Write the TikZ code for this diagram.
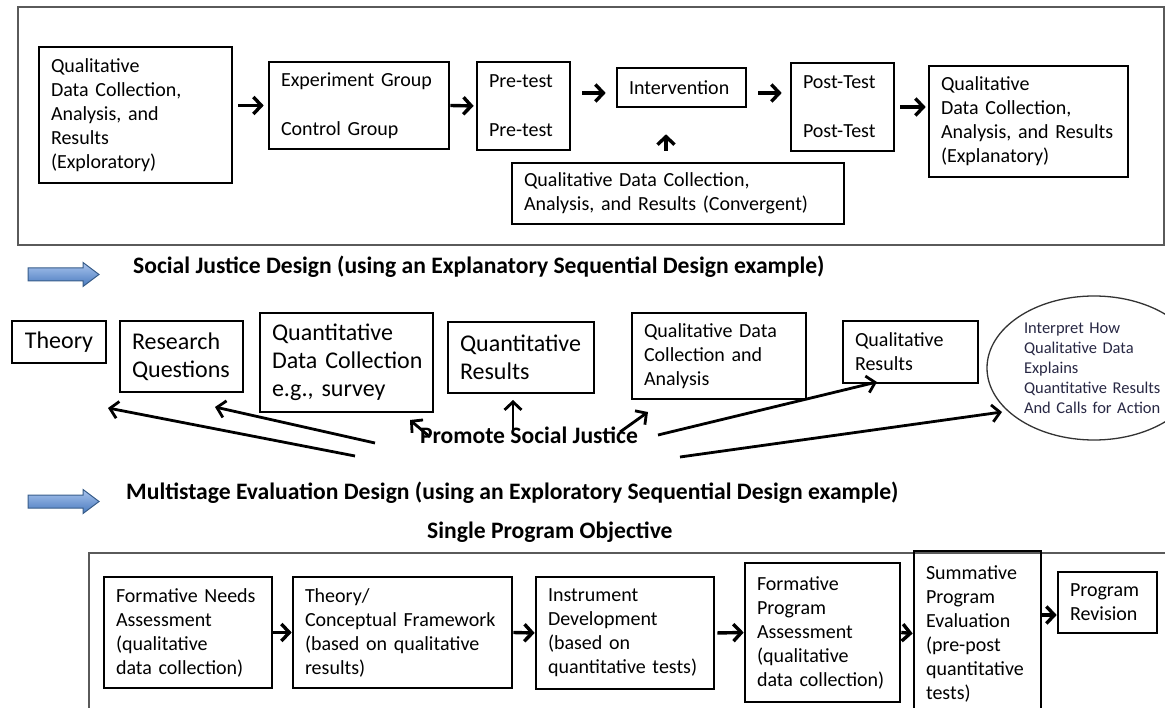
\documentclass[tikz,border=0pt]{standalone}
\usepackage{fontspec}
\setmainfont{Carlito}
\usetikzlibrary{arrows.meta,calc,shapes.geometric}

\definecolor{framegray}{RGB}{90,90,90}
\definecolor{arrowblue}{RGB}{56,93,138}
\definecolor{lightblue}{RGB}{170,196,238}
\definecolor{midblue}{RGB}{72,122,190}
\definecolor{slatetext}{RGB}{40,40,68}

\newcommand{\boxfont}{\fontsize{20}{24}\selectfont}
\newcommand{\bigfont}{\fontsize{24}{28}\selectfont}
\newcommand{\headfont}{\fontsize{23.6}{28}\selectfont\bfseries}
\frenchspacing
\hyphenpenalty=10000
\exhyphenpenalty=10000

\begin{document}
\begin{tikzpicture}[x=1pt,y=-1pt,>={Straight Barb[length=8pt,width=17pt]},
  box/.style={draw,line width=2.6pt,align=left,inner xsep=12pt,inner ysep=0pt,font=\boxfont},
  flow/.style={->,line width=3.4pt},
  frame/.style={draw=framegray,line width=1.8pt},
  heading/.style={anchor=west,font=\headfont,inner sep=0pt},
  blockarrow/.style={top color=lightblue,bottom color=midblue,draw=arrowblue,line width=1pt}]
\useasboundingbox (0,0) rectangle (1165,708);

% frames
\draw[frame] (18,7) rectangle (1164,245);
\draw[frame] (1175,553) -- (89,553) -- (89,720);

% top row
\node[box,minimum width=193pt,minimum height=136pt,text width=169pt] (A) at (135.5,115) {Qualitative\\Data~Collection,\\Analysis,~and\\Results\\(Exploratory)};
\node[box,minimum width=180pt,minimum height=87pt,text width=156pt] (B) at (359,105.5) {Experiment~Group\\[25pt]Control~Group};
\node[box,minimum width=93pt,minimum height=88pt,text width=69pt] (C) at (523.5,106) {Pre-test\\[25pt]Pre-test};
\node[box,minimum width=129pt,minimum height=39pt,text width=105pt] (D) at (681.5,87.5) {Intervention};
\node[box,minimum width=103pt,minimum height=88pt,text width=79pt] (E) at (842.5,107) {Post-Test\\[25pt]Post-Test};
\node[box,minimum width=199pt,minimum height=111pt,text width=175pt] (F) at (1028.5,121.5) {Qualitative\\Data~Collection,\\Analysis,~and~Results\\(Explanatory)};
\node[box,minimum width=332pt,minimum height=61pt,text width=308pt] (G) at (678,193.5) {Qualitative~Data~Collection,\\Analysis,~and~Results~(Convergent)};

\draw[flow,shorten <=5pt,shorten >=4pt] (A.east |- B.west) -- (B.west);
\draw[flow,shorten >=2pt] (B.east) -- (C.west);
\draw[flow,shorten <=11pt,shorten >=10pt] ($(C.east |- D.west)+(0,5.5)$) -- ($(D.west)+(0,5.5)$);
\draw[flow,shorten <=11pt,shorten >=8pt] ($(D.east)+(0,5.5)$) -- ($(D.east -| E.west)+(0,5.5)$);
\draw[flow,shorten <=5pt,shorten >=2pt] (E.east) -- (E.east -| F.west);
\draw[flow,shorten <=11pt,shorten >=26pt] ($(G.north)+(-12,0)$) -- ($(G.north |- D.south)+(-12,0)$);

% blue pointers before the headings
\foreach \yy in {274.5,501.5}{
  \path[blockarrow] (28,\yy-6.5) -- (83,\yy-6.5) -- (83,\yy-12) -- (99,\yy) -- (83,\yy+12) -- (83,\yy+6.5) -- (28,\yy+6.5) -- cycle;
}
\node[heading] (h1) at (133,267) {Social Justice Design (using an Explanatory Sequential Design example)};
\node[heading] (h2) at (126,493) {Multistage Evaluation Design (using an Exploratory Sequential Design example)};
\node[heading] (h3) at (427,532) {Single Program Objective};

% social justice row
\node[box,font=\bigfont,align=center,minimum width=94pt,minimum height=42pt] (th) at (59,342) {Theory};
\node[box,font=\bigfont,minimum width=123pt,minimum height=71pt,text width=99pt] (rq) at (181.5,356.5) {Research\\Questions};
\node[box,font=\bigfont,minimum width=173pt,minimum height=99pt,text width=149pt] (qdc) at (346.5,362.5) {Quantitative\\Data~Collection\\e.g.,~survey};
\node[box,font=\bigfont,minimum width=146pt,minimum height=71pt,text width=122pt] (qr) at (521,357.5) {Quantitative\\Results};
\node[box,minimum width=174pt,minimum height=86pt,text width=150pt] (qlc) at (719,356) {Qualitative~Data\\Collection~and\\Analysis};
\node[box,minimum width=135pt,minimum height=62pt,text width=111pt] (qlr) at (910.5,352) {Qualitative\\Results};
\node[ellipse,draw=black!80,line width=1.3pt,minimum width=214pt,minimum height=144pt,align=left,text width=140pt,inner sep=0pt,text=slatetext,font=\fontsize{16.5}{20}\selectfont] (ip) at (1094,368) {Interpret~How\\Qualitative~Data\\Explains\\Quantitative~Results\\And~Calls~for~Action};
\node[font=\headfont,inner sep=0pt] (psj) at (529,435) {Promote Social Justice};

\coordinate (p1) at (355,456);  \coordinate (toTh) at (108,408);
\coordinate (p2) at (375,443);  \coordinate (toRq) at (215,407);
\coordinate (p3) at (430,437);  \coordinate (toQdc) at (410,420);
\coordinate (p4) at (513,432);  \coordinate (toQr) at (513,400);
\coordinate (p5) at (620,432);  \coordinate (toQlc) at (648,412);
\coordinate (p6) at (658,435);  \coordinate (toQlr) at (877,382);
\coordinate (p7) at (680,457);  \coordinate (toIp) at (1002,412);
\foreach \s/\t in {p1/toTh,p2/toRq,p3/toQdc,p4/toQr,p5/toQlc,p6/toQlr,p7/toIp}
  \draw[flow,line width=2.8pt] (\s) -- (\t);

% evaluation row
\node[box,minimum width=168pt,minimum height=111pt,text width=144pt] (fn) at (188,632.5) {Formative~Needs\\Assessment\\(qualitative\\data~collection)};
\node[box,minimum width=219pt,minimum height=111pt,text width=195pt] (cf) at (402.5,632.5) {Theory/\\Conceptual~Framework\\(based~on~qualitative\\results)};
\node[box,minimum width=178pt,minimum height=112pt,text width=154pt] (id) at (625,633) {Instrument\\Development\\(based~on\\quantitative~tests)};
\node[box,minimum width=155pt,minimum height=139pt,text width=131pt] (fpa) at (822.5,632.5) {Formative\\Program\\Assessment\\(qualitative\\data~collection)};
\node[box,minimum width=127pt,minimum height=165pt,text width=103pt] (spe) at (977.5,633.5) {Summative\\Program\\Evaluation\\(pre-post\\quantitative\\tests)};
\node[box,minimum width=99pt,minimum height=61pt,text width=75pt] (pr) at (1107.5,602.5) {Program\\Revision};

\draw[flow] (fn.east) -- (cf.west);
\draw[flow] (cf.east) -- (id.west);
\draw[flow,shorten <=2pt] (id.east) -- (fpa.west);
\draw[flow] (fpa.east) -- (spe.west);
\draw[flow] ($(spe.east |- pr.west)+(0,12.5)$) -- ($(pr.west)+(0,12.5)$);
\end{tikzpicture}
\end{document}
